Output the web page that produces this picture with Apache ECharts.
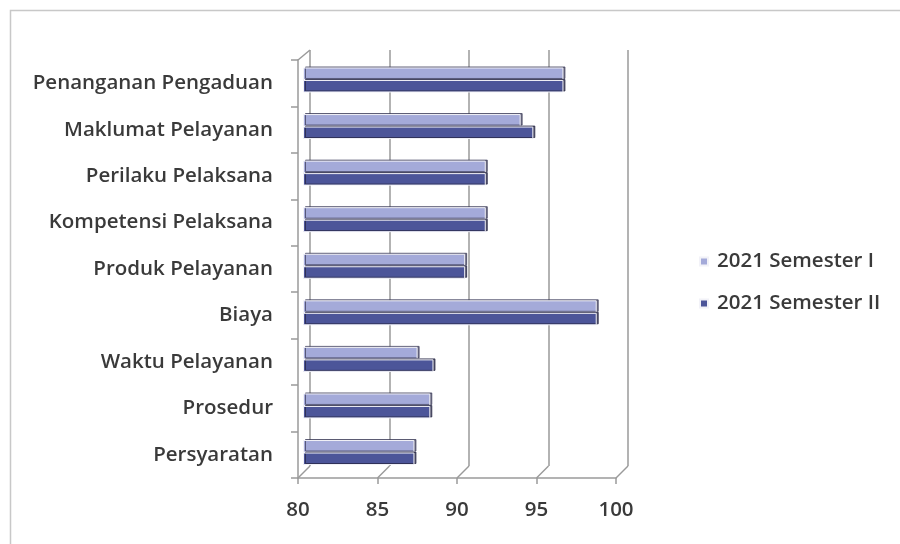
<!DOCTYPE html>
<html>
<head>
<meta charset="utf-8">
<script src="https://cdn.jsdelivr.net/npm/echarts@6/dist/echarts.min.js"></script>
<style>
  html, body { margin: 0; padding: 0; background: #fff; }
  #main { width: 900px; height: 544px; }
</style>
</head>
<body>
<div id="main"></div>
<script>
// kategori dari atas ke bawah
var categories = ['Penanganan Pengaduan', 'Maklumat Pelayanan', 'Perilaku Pelaksana', 'Kompetensi Pelaksana',
  'Produk Pelayanan', 'Biaya', 'Waktu Pelayanan', 'Prosedur', 'Persyaratan']
var semester1 = [96.4, 93.7, 91.5, 91.5, 90.2, 98.5, 87.2, 88.0, 87.0]
var semester2 = [96.4, 94.5, 91.5, 91.5, 90.2, 98.5, 88.2, 88.0, 87.0]
var seriesNames = ['2021 Semester I', '2021 Semester II']
var xTicks = [80, 85, 90, 95, 100]

var lineColor = '#9a9a9a'
var textColor = '#3a3a3a'
var font = 'Open Sans'

var myChart = echarts.init(document.getElementById('main'))

// garis miring lantai (efek 3D)
var floorLines = xTicks.map(function (v, i) {
  var x = 298 + i * 79.5
  return { type: 'line', shape: { x1: x, y1: 478, x2: x + 12, y2: 466 }, style: { stroke: lineColor, lineWidth: 1.5 } }
})

myChart.setOption({
  animation: false,
  textStyle: { fontFamily: font },
  graphic: [
    { type: 'rect', shape: { x: 10.5, y: 10.5, width: 920, height: 560 }, style: { fill: 'none', stroke: '#c8c8c8', lineWidth: 1.5 } },
    { type: 'line', shape: { x1: 298, y1: 60, x2: 310, y2: 50 }, style: { stroke: lineColor, lineWidth: 1.5 } }
  ].concat(floorLines),
  legend: {
    orient: 'vertical',
    left: 694,
    top: 246,
    itemGap: 21,
    itemWidth: 8,
    itemHeight: 8,
    icon: 'rect',
    data: seriesNames,
    textStyle: { color: textColor, fontSize: 20.5, fontWeight: 600, fontFamily: font, padding: [0, 0, 0, 4] }
  },
  grid: [
    // dinding belakang
    { left: 310, right: 272, top: 50, bottom: 78 },
    // sumbu depan
    { left: 298, right: 284, top: 60, bottom: 66 },
    // batang
    { left: 303.5, right: 279.5, top: 56.7, bottom: 68.2 }
  ],
  xAxis: [
    {
      gridIndex: 0, type: 'value', min: 80, max: 100, interval: 5,
      axisLine: { show: false }, axisTick: { show: false }, axisLabel: { show: false },
      splitLine: { show: true, lineStyle: { color: lineColor, width: 1.5 } }
    },
    {
      gridIndex: 1, type: 'value', min: 80, max: 100, interval: 5,
      axisLine: { show: true, lineStyle: { color: lineColor, width: 1.5 } },
      axisTick: { show: true, length: 6, lineStyle: { color: lineColor, width: 1.5 } },
      axisLabel: { color: textColor, fontSize: 20.5, fontWeight: 600, margin: 22 },
      splitLine: { show: false }
    },
    {
      gridIndex: 2, type: 'value', min: 80, max: 100, interval: 5, show: false
    }
  ],
  yAxis: [
    { gridIndex: 0, type: 'category', inverse: true, data: categories, show: false },
    {
      gridIndex: 1, type: 'category', inverse: true, data: categories,
      axisLine: { show: true, lineStyle: { color: lineColor, width: 1.5 } },
      axisTick: { show: true, length: 7, lineStyle: { color: lineColor, width: 1.5 } },
      axisLabel: { color: textColor, fontSize: 20.5, fontWeight: 600, margin: 25 }
    },
    { gridIndex: 2, type: 'category', inverse: true, data: categories, show: false }
  ],
  series: [
    {
      name: seriesNames[0],
      type: 'bar',
      xAxisIndex: 2,
      yAxisIndex: 2,
      barWidth: 12.5,
      barGap: '0%',
      itemStyle: {
        color: '#a4aad9',
        borderColor: '#f2f2f8',
        borderWidth: 1,
        shadowColor: 'rgba(60,60,90,0.75)',
        shadowOffsetX: 2,
        shadowOffsetY: -1
      },
      data: semester1
    },
    {
      name: seriesNames[1],
      type: 'bar',
      xAxisIndex: 2,
      yAxisIndex: 2,
      barWidth: 12.5,
      barGap: '0%',
      itemStyle: {
        color: '#4c5599',
        borderColor: '#f2f2f8',
        borderWidth: 1,
        shadowColor: 'rgba(40,40,70,0.8)',
        shadowOffsetX: 2,
        shadowOffsetY: -1
      },
      data: semester2
    }
  ]
})
</script>
</body>
</html>
